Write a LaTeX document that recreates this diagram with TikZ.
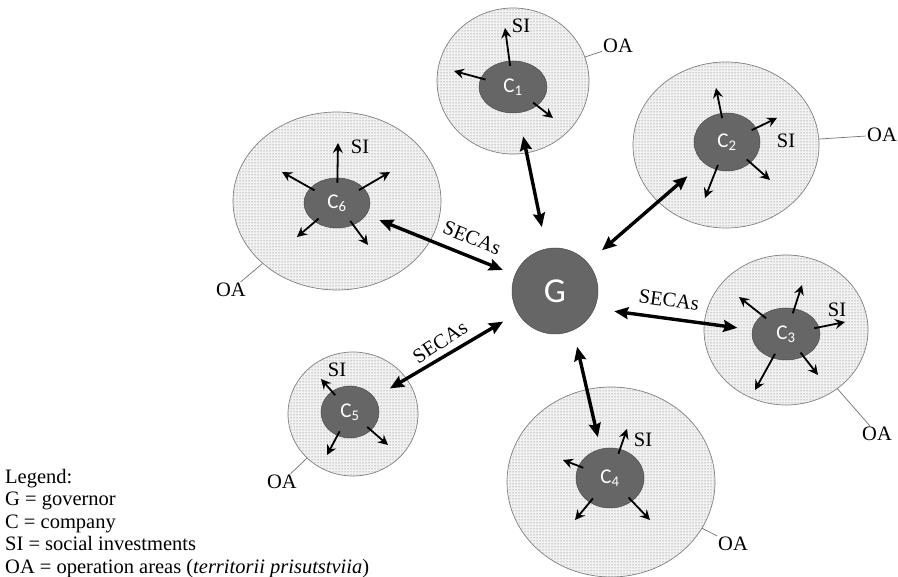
\documentclass[tikz,border=0pt]{standalone}
\usepackage{fontspec}
\setmainfont{Liberation Serif}
\newfontfamily\calibfont{Carlito}
\usepackage{tikz}
\usetikzlibrary{arrows.meta,shapes.geometric,patterns,positioning}

\begin{document}
\begin{tikzpicture}[x=1pt,y=-1pt,
  area/.style={ellipse, draw=black!50, line width=0.7pt, inner sep=0pt,
    preaction={fill=black!5}, pattern=dots, pattern color=black!60},
  company/.style={ellipse, fill=black!60, draw=black!70, line width=0.5pt,
    inner sep=0pt, text=white, font=\calibfont\fontsize{21}{21}\selectfont},
  gov/.style={circle, fill=black!60, draw=black!70, line width=0.5pt,
    minimum size=86pt, inner sep=0pt, text=white,
    font=\calibfont\fontsize{35}{35}\selectfont},
  lab/.style={inner sep=1pt, font=\fontsize{20.5}{20.5}\selectfont},
  si/.style={line width=1.8pt, shorten <=-5pt,
    -{Stealth[length=10pt,width=10pt,inset=3.5pt]}},
  secas/.style={line width=3.4pt,
    {Stealth[length=14pt,width=12pt,inset=2pt]}-{Stealth[length=14pt,width=12pt,inset=2pt]}},
  leader/.style={draw=black!55, line width=0.7pt}
]
  \useasboundingbox (0,0) rectangle (898,577);

  % Operation areas
  \foreach \n/\x/\y/\w/\h in {1/513/81/152/146, 2/726/145/186/166,
    3/786/330/164/150, 4/611/482/208/190, 5/353/414/130/124, 6/337/201/208/178}
    \node[area, minimum width=\w, minimum height=\h] (oa\n) at (\x,\y) {};

  % Companies and governor
  \foreach \n/\x/\y/\w/\h in {1/513/87/68/52, 2/727/142/66/58, 3/786/334/68/52,
    4/610/478/68/60, 5/350/412/58/52, 6/337/203/66/50}
    \node[company, minimum width=\w, minimum height=\h] (c\n) at (\x,\y) {C\textsubscript{\n}};
  \node[gov] (g) at (555,291) {G};

  % Social investments
  \foreach \c/\i/\x/\y in {c1/1/505/28, c1/2/454/71, c1/3/553/118,
    c2/1/716/88, c2/2/777/118, c2/3/770/180, c2/4/705/198,
    c3/1/739/297, c3/2/802/285, c3/3/845/322, c3/4/818/375, c3/5/755/390,
    c4/1/627/429, c4/2/563/460, c4/3/575/520, c4/4/650/520,
    c5/1/321/379, c5/2/327/455, c5/3/388/445,
    c6/1/338/143, c6/2/282/172, c6/3/390/172, c6/4/297/237, c6/5/368/245}
  {
    \coordinate (\c-\i) at (\x,\y);
    \draw[si] (\c) -- (\c-\i);
  }
  \node[lab] (si1) at (521,26) {SI};
  \node[lab] (si2) at (786,141) {SI};
  \node[lab] (si3) at (837,310) {SI};
  \node[lab] (si4) at (643,440) {SI};
  \node[lab] (si5) at (337,370) {SI};
  \node[lab] (si6) at (360,147) {SI};

  % OA labels
  \node[lab] (oalab1) at (618,46) {OA};
  \node[lab] (oalab2) at (882,135) {OA};
  \node[lab] (oalab3) at (877,434) {OA};
  \node[lab] (oalab4) at (733,544) {OA};
  \node[lab] (oalab5) at (282,482) {OA};
  \node[lab] (oalab6) at (231,290) {OA};
  \foreach \n in {1,...,6}
    \draw[leader] (oa\n) -- (oalab\n);

  % SECAs
  \draw[secas, shorten <=22pt, shorten >=24pt] (g) -- (c1);
  \draw[secas, shorten <=19pt, shorten >=21pt] (g) -- (c2);
  \draw[secas, shorten <=20pt, shorten >=15pt] (g.336) -- (c3.173);
  \draw[secas, shorten <=17pt, shorten >=12pt] (g.295) -- (c4.108);
  \draw[secas, shorten <=18pt, shorten >=17pt] (c5) -- (g);
  \draw[secas, shorten <=14pt, shorten >=13pt] (c6) -- (g);
  \node[lab, rotate=-8] (secas3) at (669,300) {SECAs};
  \node[lab, rotate=33] (secas5) at (440,342) {SECAs};
  \node[lab, rotate=-22] (secas6) at (472,238) {SECAs};

  % Legend
  \node[anchor=north west, inner sep=0pt, align=left,
    font=\fontsize{20.5}{22.5}\selectfont] (legend) at (5,469)
    {Legend:\\ G = governor\\ C = company\\ SI = social investments\\
     OA = operation areas (\textit{territorii prisutstviia})};
\end{tikzpicture}
\end{document}
